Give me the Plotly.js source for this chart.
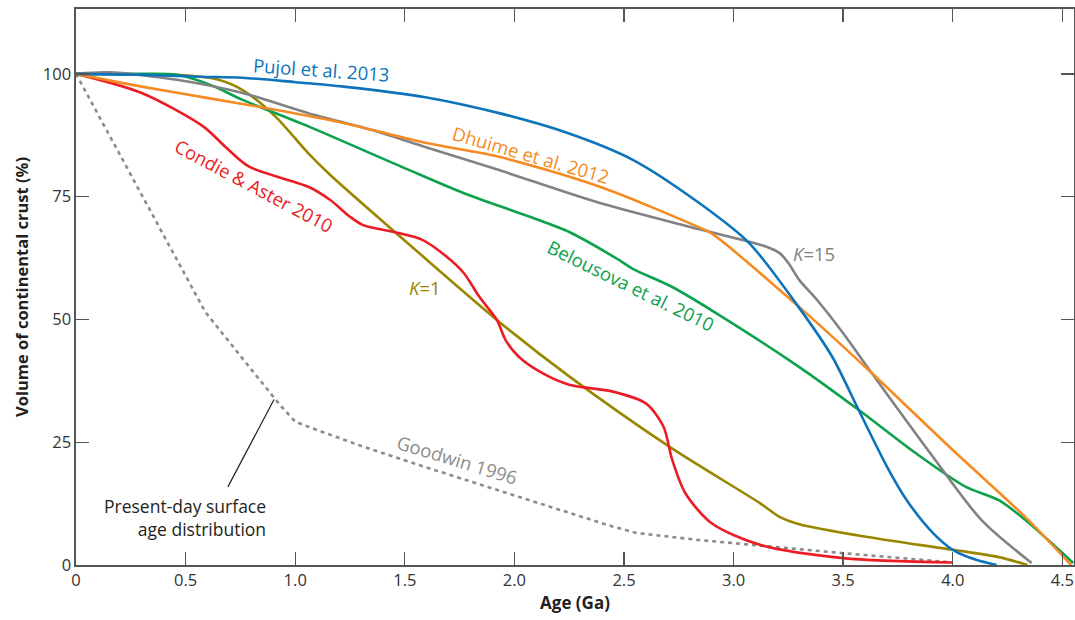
<!DOCTYPE html>
<html>
<head>
<meta charset="utf-8">
<script src="https://cdn.plot.ly/plotly-3.0.1.min.js"></script>
<style>html,body{margin:0;padding:0;background:#fff;}#chart{width:1075px;height:620px;}</style>
</head>
<body>
<div id="chart"></div>
<script>
// Age (Ga) and volume of continental crust (%) for each model
const pujolAge = [0, 0.3, 0.57, 0.76, 1.0, 1.22, 1.6, 1.93, 2.24, 2.54, 2.84, 3.07, 3.3, 3.45, 3.57, 3.7, 3.79, 3.91, 4.0, 4.11, 4.2];
const pujolVol = [100, 99.8, 99.4, 99.2, 98.3, 97.4, 95.2, 92.0, 88.0, 82.5, 73.8, 65.6, 52.3, 42.4, 31.6, 20.0, 13.2, 6.5, 3.1, 1.0, 0];

const dhuimeAge = [0, 0.3, 0.61, 0.91, 1.22, 1.6, 1.93, 2.39, 2.84, 2.9, 3.3, 3.63, 4.0, 4.33, 4.54];
const dhuimeVol = [100, 97.4, 95.0, 92.7, 90.0, 85.9, 83.1, 77.0, 68.8, 67.5, 52.5, 39.1, 23.4, 9.8, 0];

const k15Age = [0, 0.15, 0.46, 0.76, 1.06, 1.37, 1.6, 1.93, 2.39, 2.84, 3.15, 3.21, 3.25, 3.3, 3.38, 3.5, 3.63, 3.91, 4.13, 4.36];
const k15Vol = [100, 100.3, 98.8, 96.1, 92.0, 88.3, 85.0, 80.4, 73.7, 68.4, 64.8, 63.5, 61.5, 58.0, 54.0, 47.2, 39.1, 22.0, 9.2, 0.4];

const belAge = [0, 0.3, 0.46, 0.61, 0.76, 1.06, 1.51, 1.77, 2.07, 2.25, 2.47, 2.54, 2.72, 2.92, 3.3, 3.57, 3.83, 4.06, 4.21, 4.33, 4.55];
const belVol = [100, 100, 99.8, 97.8, 94.7, 89.3, 80.6, 75.7, 70.9, 67.8, 62.3, 60.3, 56.6, 51.3, 40.3, 31.6, 22.8, 15.9, 13.2, 9.2, 0.4];

const condieAge = [0, 0.3, 0.58, 0.68, 0.79, 1.06, 1.16, 1.25, 1.31, 1.46, 1.58, 1.69, 1.77, 1.84, 1.92, 1.96, 2.02, 2.13, 2.25, 2.45, 2.6, 2.68, 2.72, 2.78, 2.9, 3.12, 3.5, 4.0];
const condieVol = [100, 96.1, 89.3, 85.2, 81.1, 77.0, 74.3, 70.9, 69.2, 67.7, 66.2, 62.8, 59.4, 54.6, 49.9, 45.8, 42.4, 39.0, 36.7, 35.3, 32.9, 28.2, 21.4, 14.6, 8.5, 4.1, 1.4, 0.5];

const k1Age = [0, 0.3, 0.46, 0.65, 0.76, 0.91, 1.06, 1.16, 1.46, 1.92, 2.25, 2.71, 3.12, 3.21, 3.3, 3.61, 4.0, 4.21, 4.34];
const k1Vol = [100, 99.9, 99.8, 98.8, 96.7, 91.3, 83.8, 79.4, 67.6, 49.9, 38.4, 24.0, 12.6, 9.8, 8.3, 5.7, 3.1, 1.6, 0];

const goodwinAge = [0, 0.3, 0.59, 0.8, 0.93, 1.0, 1.08, 1.31, 1.54, 1.99, 2.45, 2.56, 2.84, 3.5, 3.98];
const goodwinVol = [100, 75.5, 51.5, 39.8, 32.6, 29.2, 27.8, 24.1, 20.7, 14.3, 7.8, 6.5, 5.1, 2.4, 0.6];

const xTickVals = [0, 0.5, 1.0, 1.5, 2.0, 2.5, 3.0, 3.5, 4.0, 4.5];
const xTickText = ['0', '0.5', '1.0', '1.5', '2.0', '2.5', '3.0', '3.5', '4.0', '4.5'];
const yTickVals = [0, 25, 50, 75, 100];
const yTickText = ['0', '25', '50', '75', '100'];

const C = {
  blue: '#0d74bb', orange: '#f58b22', gray: '#808285', green: '#0ca14b',
  red: '#ec1c24', olive: '#9b8600', dash: '#8c8c8c'
};

function curve(x, y, color, shape, dash) {
  return {
    x: x, y: y, type: 'scatter', mode: 'lines', hoverinfo: 'skip',
    line: {color: color, width: 2.6, shape: shape, smoothing: 0.8, dash: dash || 'solid'}
  };
}

const traces = [
  curve(goodwinAge, goodwinVol, C.dash, 'linear', '4px,4px'),
  curve(k1Age, k1Vol, C.olive, 'spline'),
  curve(condieAge, condieVol, C.red, 'spline'),
  curve(belAge, belVol, C.green, 'spline'),
  curve(k15Age, k15Vol, C.gray, 'spline'),
  curve(dhuimeAge, dhuimeVol, C.orange, 'spline'),
  curve(pujolAge, pujolVol, C.blue, 'spline')
];

const F = 'Open Sans, Liberation Sans, sans-serif';
function label(text, x, y, color, angle) {
  return {text: text, x: x, y: y, xref: 'x', yref: 'y', showarrow: false,
    xanchor: 'center', yanchor: 'middle', textangle: angle || 0,
    font: {family: F, size: 18.5, color: color}};
}

const annotations = [
  label('Pujol et al. 2013', 1.117, 100.8, C.blue, 4),
  label('Dhuime et al. 2012', 2.074, 83.6, C.orange, 16),
  label('Condie &amp; Aster 2010', 0.812, 77.2, C.red, 28),
  label('Belousova et al. 2010', 2.534, 57.0, C.green, 26),
  label('Goodwin 1996', 1.74, 21.5, C.dash, 17),
  label('<i>K</i>=1', 1.591, 56.6, C.olive, 0),
  label('<i>K</i>=15', 3.368, 63.5, C.gray, 0),
  {text: 'Present-day surface<br>age distribution', x: 0.875, y: 9.6, xref: 'x', yref: 'y',
   showarrow: false, xanchor: 'right', yanchor: 'middle', align: 'right',
   font: {family: F, size: 17.5, color: '#231f20'}},
  {x: 0.693, y: 15.9, ax: 0.907, ay: 34.0, xref: 'x', yref: 'y', axref: 'x', ayref: 'y',
   text: '', showarrow: true, arrowhead: 0, arrowwidth: 1.2, arrowcolor: '#231f20', standoff: 0, startstandoff: 0}
];

const axisCommon = {
  showline: true, linecolor: '#555', linewidth: 1.6, mirror: 'allticks',
  ticks: 'inside', ticklen: 13, tickwidth: 1.4, tickcolor: '#555',
  showgrid: false, zeroline: false, fixedrange: true,
  tickfont: {family: F, size: 16.5, color: '#333'}
};

const layout = {
  width: 1075, height: 620,
  margin: {l: 76, r: 1, t: 9, b: 55},
  paper_bgcolor: '#fff', plot_bgcolor: '#fff',
  showlegend: false,
  xaxis: Object.assign({}, axisCommon, {
    range: [0, 4.553], tickmode: 'array', tickvals: xTickVals, ticktext: xTickText,
    title: {text: '<b>Age (Ga)</b>', font: {family: F, size: 17, color: '#231f20'}, standoff: 6}
  }),
  yaxis: Object.assign({}, axisCommon, {
    range: [0, 113.2], tickmode: 'array', tickvals: yTickVals, ticktext: yTickText,
    title: {text: '<b>Volume of continental crust (%)</b>', font: {family: F, size: 16.5, color: '#231f20'}, standoff: 10}
  }),
  annotations: annotations
};

Plotly.newPlot('chart', traces, layout, {displayModeBar: false, staticPlot: true});
</script>
</body>
</html>
